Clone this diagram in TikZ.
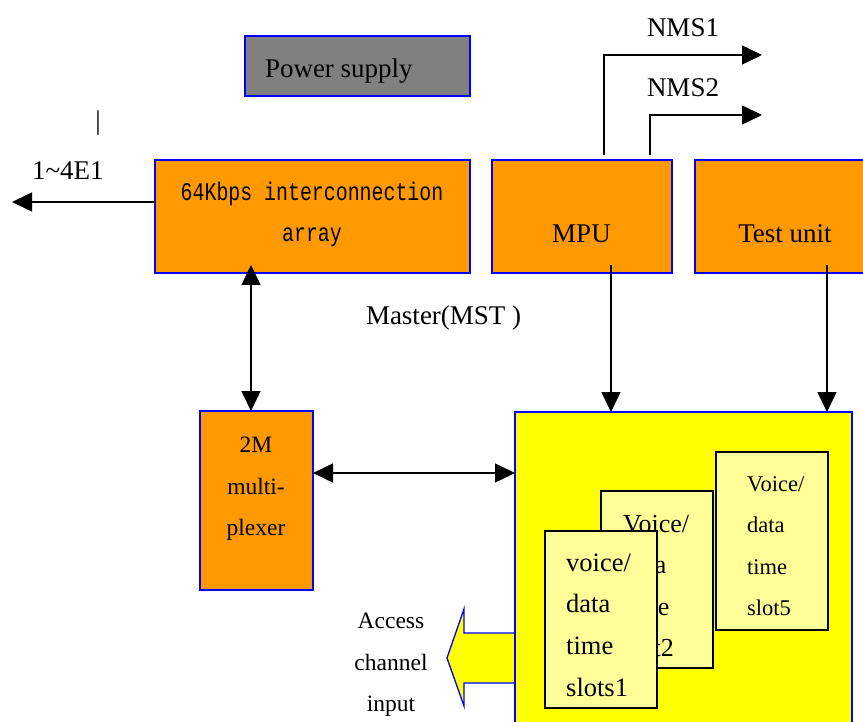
\documentclass[tikz,border=0pt]{standalone}
\usepackage{fontspec}
\setmainfont{Liberation Serif}
\setmonofont{Liberation Mono}
\newfontfamily\narrowmono[FakeStretch=0.78]{Liberation Mono}
\usetikzlibrary{arrows.meta,calc}
\definecolor{unitorange}{HTML}{FF9900}
\definecolor{psgray}{HTML}{808080}
\definecolor{busyellow}{HTML}{FFFF00}
\definecolor{slotyellow}{HTML}{FFFF99}
\tikzset{
  unit/.style={draw=blue, line width=1.3pt, fill=unitorange, inner sep=0pt, outer sep=0pt},
  slotcard/.style={draw=black, line width=1.8pt, fill=slotyellow, inner sep=0pt, outer sep=0pt,
    minimum width=112pt},
  lbl/.style={inner sep=0pt, outer sep=0pt, font=\fontsize{27}{27}\selectfont},
  small/.style={inner sep=0pt, outer sep=0pt, font=\fontsize{23.5}{23.5}\selectfont},
  monolbl/.style={inner sep=0pt, outer sep=0pt, font=\narrowmono\fontsize{25.5}{25.5}\selectfont},
  sig/.style={line width=1.5pt, -{Triangle[length=20pt,width=19pt]}},
  bisig/.style={line width=1.5pt, {Triangle[length=20pt,width=19pt]}-{Triangle[length=20pt,width=19pt]}},
}
\begin{document}
\begin{tikzpicture}[x=1pt,y=-1pt]
\useasboundingbox (0,0) rectangle (863,722);
\clip (0,0) rectangle (863,722);
\fill[white] (0,0) rectangle (863,722);

% power supply
\node[unit, fill=psgray, minimum width=225pt, minimum height=60pt] (pwr) at (357.5,66) {};
\node[lbl, anchor=base west] (pwrt) at (265,78) {Power supply};

% switching units
\node[unit, minimum width=315pt, minimum height=113pt] (ica) at (312.5,216.5) {};
\node[monolbl, anchor=base] (icat1) at (312,201) {64Kbps interconnection};
\node[monolbl, anchor=base] (icat2) at (312,242) {array};

\node[unit, minimum width=180pt, minimum height=113pt] (mpu) at (582,216.5) {};
\node[lbl, anchor=base] (mput) at (581.5,243) {MPU};

\node[unit, minimum width=180pt, minimum height=113pt] (test) at (785,216.5) {};
\node[lbl, anchor=base] (testt) at (785,243) {Test unit};

\node[unit, minimum width=113pt, minimum height=179pt] (mux) at (256.5,500.5) {};
\node[small, anchor=base] (muxt1) at (256,452) {2M};
\node[small, anchor=base] (muxt2) at (256,494) {multi-};
\node[small, anchor=base] (muxt3) at (256,535) {plexer};

% access channel output arrow
\draw[draw=blue, line width=1.3pt, fill=busyellow]
  (515,633) -- (464,633) -- (464,609) -- (447,658) -- (464,706) -- (464,683) -- (515,683);
\node[small, anchor=base] (acc1) at (391,628) {Access};
\node[small, anchor=base] (acc2) at (391,670) {channel};
\node[small, anchor=base] (acc3) at (391,711) {input};

% time slot bus
\node[unit, fill=busyellow, minimum width=337pt, minimum height=318pt] (bus) at (683.5,571) {};

\node[slotcard, minimum height=178pt] (s5) at (772,541) {};
\foreach \t [count=\i] in {Voice/,data,time,slot5}
  \node[inner sep=0pt, anchor=base west, font=\fontsize{22.5}{22.5}\selectfont] (s5t\i) at (747,{491+41.5*(\i-1)}) {\t};

\node[slotcard, minimum height=177pt] (s2) at (657,579.5) {};
\foreach \t [count=\i] in {Voice/,data,time,slot2}
  \node[inner sep=0pt, anchor=base west, font=\fontsize{26}{26}\selectfont] (s2t\i) at (623,{532+41.5*(\i-1)}) {\t};

\node[slotcard, minimum height=177pt] (s1) at (601,619.5) {};
\foreach \t [count=\i] in {voice/,data,time,slots1}
  \node[inner sep=0pt, anchor=base west, font=\fontsize{26.5}{26.5}\selectfont] (s1t\i) at (566,{571+41.7*(\i-1)}) {\t};

% free labels
\node[lbl] (bar) at (98,123) {|};
\node[lbl, anchor=base west] (e1t) at (32,180) {1\textasciitilde 4E1};
\node[lbl, anchor=base west] (nms1t) at (647,37) {NMS1};
\node[lbl, anchor=base west] (nms2t) at (647,97) {NMS2};
\node[lbl, anchor=base west] (mst) at (366,325) {Master(MST )};

% connectors
\coordinate (e1) at (12,202);
\coordinate (n1) at (762,55);
\coordinate (n2) at (762,115);
\draw[sig] ([yshift=14.5pt]ica.west) -- (e1);
\draw[sig] ($(mpu.north west)+(112,-5)$) |- (n1);
\draw[sig] ($(mpu.north west)+(158,-5)$) |- (n2);

\coordinate (mpud) at ($(mpu.south west)+(119,-8)$);
\draw[sig] (mpud) -- (mpud |- bus.north);
\coordinate (testd) at ($(test.south west)+(132,-8)$);
\draw[sig] (testd) -- (testd |- bus.north);

\coordinate (icad) at ($(ica.south -| mux.north)+(-5.5,-8)$);
\draw[bisig] (icad) -- (icad |- mux.north);
\coordinate (muxr) at ([yshift=27.5pt]mux.east);
\draw[bisig] (muxr) -- (muxr -| bus.west);
\end{tikzpicture}
\end{document}
